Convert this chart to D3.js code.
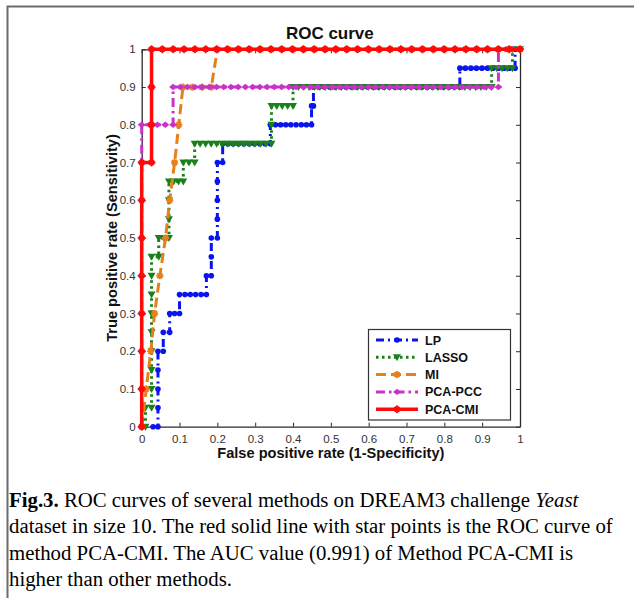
<!DOCTYPE html>
<html><head><meta charset="utf-8">
<script src="https://cdn.jsdelivr.net/npm/d3@7"></script>
<style>body{margin:0;background:#fff}svg{display:block}</style></head>
<body>
<svg id="c" width="634" height="598"></svg>
<script>
// ---- data ----
const seriesNames = ["LP", "LASSO", "MI", "PCA-PCC", "PCA-CMI"];
const lpX = [0.03,0.043,0.043,0.057,0.057,0.074,0.074,0.1,0.1,0.171,0.171,0.184,0.184,0.2,0.2,0.214,0.214,0.34,0.34,0.449,0.449,0.454,0.454,0.841,0.841,0.987,0.987,1];
const lpY = [0,0,0.2,0.2,0.25,0.25,0.3,0.3,0.35,0.35,0.4,0.4,0.5,0.5,0.7,0.7,0.75,0.75,0.8,0.8,0.85,0.85,0.9,0.9,0.95,0.95,1,1];
const lassoX = [0.01,0.01,0.026,0.026,0.045,0.045,0.072,0.072,0.11,0.11,0.14,0.14,0.343,0.343,0.4,0.4,0.925,0.925,0.98,0.98,1];
const lassoY = [0,0.05,0.05,0.45,0.45,0.5,0.5,0.65,0.65,0.7,0.7,0.75,0.75,0.85,0.85,0.9,0.9,0.95,0.95,1,1];
const miX = [0,0.012,0.024,0.034,0.048,0.063,0.074,0.087,0.098,0.109,0.184,0.2,1];
const miY = [0,0.1,0.2,0.3,0.4,0.5,0.6,0.7,0.8,0.9,0.9,1,1];
const pccX = [0,0,0.083,0.083,0.943,0.943,1];
const pccY = [0,0.8,0.8,0.9,0.9,1,1];
const cmiX = [0,0,0.026,0.026,1];
const cmiY = [0,0.7,0.7,1,1];
const xTickVals = [0,0.1,0.2,0.3,0.4,0.5,0.6,0.7,0.8,0.9,1];
const xTickLabels = ["0","0.1","0.2","0.3","0.4","0.5","0.6","0.7","0.8","0.9","1"];
const yTickVals = [0,0.1,0.2,0.3,0.4,0.5,0.6,0.7,0.8,0.9,1];
const yTickLabels = ["0","0.1","0.2","0.3","0.4","0.5","0.6","0.7","0.8","0.9","1"];
const titleText = "ROC curve";
const xLabel = "False positive rate (1-Specificity)";
const yLabel = "True positive rate (Sensitivity)";
const captionLines = [
  [["Fig.3.","b"],[" ROC curves of several methods on DREAM3 challenge ","n"],["Yeast","i"]],
  [["dataset in size 10. The red solid line with star points is the ROC curve of","n"]],
  [["method PCA-CMI. The AUC value (0.991) of Method PCA-CMI is","n"]],
  [["higher than other methods.","n"]]
];

// ---- styles ----
const styles = {
  "LP":      {xs: lpX, ys: lpY, color:"#0a14f0", dash:"8,4,2,4", width:3, marker:"dot", hx:0.0143, vy:0.05},
  "LASSO":   {xs: lassoX, ys: lassoY, color:"#1b801b", dash:"2.5,3.5", width:3, marker:"tri", hx:0.0143, vy:0.05},
  "MI":      {xs: miX, ys: miY, color:"#e5801c", dash:"10,5", width:3, marker:"ast", hx:0.029, vy:0.05},
  "PCA-PCC": {xs: pccX, ys: pccY, color:"#c832c8", dash:"9,4,2.5,4", width:3, marker:"dia", hx:0.019, vy:0.1},
  "PCA-CMI": {xs: cmiX, ys: cmiY, color:"#ff0a0a", dash:null, width:3.5, marker:"star", hx:0.029, vy:0.1}
};

const svg = d3.select("#c");
const L = 141.7, R = 520, T = 49.3, B = 426.7;
const x = d3.scaleLinear().domain([0,1]).range([L,R]);
const y = d3.scaleLinear().domain([0,1]).range([B,T]);

// figure border
svg.append("path").attr("d","M7.5,598 L7.5,6.5 L634,6.5").attr("fill","none").attr("stroke","#6b6b6b").attr("stroke-width",2);

// axes
const tickCol = "#2a2a2a";
const gx = svg.append("g").attr("transform",`translate(0,${B})`)
  .call(d3.axisBottom(x).tickValues(xTickVals).tickFormat((d,i)=>xTickLabels[i]).tickSize(-4).tickSizeOuter(0).tickPadding(8));
const gy = svg.append("g").attr("transform",`translate(${L},0)`)
  .call(d3.axisLeft(y).tickValues(yTickVals).tickFormat((d,i)=>yTickLabels[i]).tickSize(-4).tickSizeOuter(0).tickPadding(6));
const gxt = svg.append("g").attr("transform",`translate(0,${T})`)
  .call(d3.axisTop(x).tickValues(xTickVals).tickFormat("").tickSize(-4).tickSizeOuter(0));
const gyr = svg.append("g").attr("transform",`translate(${R},0)`)
  .call(d3.axisRight(y).tickValues(yTickVals).tickFormat("").tickSize(-4).tickSizeOuter(0));
[gx,gy,gxt,gyr].forEach(g=>{
  g.select(".domain").attr("stroke",tickCol).attr("stroke-width",1.3);
  g.selectAll(".tick line").attr("stroke",tickCol);
  g.selectAll("text").attr("font-family","Liberation Sans, Arial, sans-serif").attr("font-size",11.5).attr("fill","#333");
});

// marker positions along each curve (marker decoration placed along the drawn steps)
function markerPts(s){
  const pts=[];
  for(let i=0;i<s.xs.length;i++){
    pts.push([s.xs[i],s.ys[i]]);
    if(i<s.xs.length-1){
      const x0=s.xs[i],y0=s.ys[i],x1=s.xs[i+1],y1=s.ys[i+1];
      if(y0===y1 && x1>x0){
        const n=Math.round((x1-x0)/s.hx);
        for(let k=1;k<n;k++) pts.push([x0+(x1-x0)*k/n,y0]);
      } else if(x0===x1 && y1>y0){
        const n=Math.round((y1-y0)/s.vy);
        for(let k=1;k<n;k++) pts.push([x0,y0+(y1-y0)*k/n]);
      }
    }
  }
  return pts;
}
function drawMarker(g,type,cx,cy,color){
  if(type==="dot"){
    g.append("circle").attr("cx",cx).attr("cy",cy).attr("r",2.8).attr("fill",color);
  } else if(type==="tri"){
    g.append("path").attr("d",`M${cx-4},${cy-3} L${cx+4},${cy-3} L${cx},${cy+4} Z`).attr("fill",color);
  } else if(type==="ast"){
    const r=3.6;
    g.append("path").attr("d",`M${cx-r},${cy} L${cx+r},${cy} M${cx},${cy-r} L${cx},${cy+r} M${cx-r*0.7},${cy-r*0.7} L${cx+r*0.7},${cy+r*0.7} M${cx-r*0.7},${cy+r*0.7} L${cx+r*0.7},${cy-r*0.7}`)
      .attr("stroke",color).attr("stroke-width",1.8);
  } else if(type==="dia"){
    g.append("path").attr("d",`M${cx-4},${cy} L${cx},${cy-3.2} L${cx+4},${cy} L${cx},${cy+3.2} Z`).attr("fill",color);
  } else if(type==="star"){
    g.append("circle").attr("cx",cx).attr("cy",cy).attr("r",3.3).attr("fill",color);
    const r=4;
    g.append("path").attr("d",`M${cx-r},${cy} L${cx+r},${cy} M${cx},${cy-r} L${cx},${cy+r}`).attr("stroke",color).attr("stroke-width",1.5);
  }
}

const line = d3.line().x(d=>x(d[0])).y(d=>y(d[1]));
const plot = svg.append("g");
seriesNames.forEach(name=>{
  const s = styles[name];
  const data = s.xs.map((v,i)=>[v,s.ys[i]]);
  const g = plot.append("g");
  g.append("path").datum(data).attr("d",line).attr("fill","none")
    .attr("stroke",s.color).attr("stroke-width",s.width)
    .attr("stroke-dasharray",s.dash).attr("stroke-linejoin","miter");
  markerPts(s).forEach(p=>drawMarker(g,s.marker,x(p[0]),y(p[1]),s.color));
});

// title & labels
svg.append("text").attr("x",(L+R)/2 - 1).attr("y",39).attr("text-anchor","middle")
  .attr("font-family","Liberation Sans, Arial, sans-serif").attr("font-weight","bold").attr("font-size",17).attr("fill","#111").text(titleText);
svg.append("text").attr("x",(L+R)/2).attr("y",457.5).attr("text-anchor","middle")
  .attr("font-family","Liberation Sans, Arial, sans-serif").attr("font-weight","bold").attr("font-size",14.6).attr("fill","#111").text(xLabel);
svg.append("text").attr("transform",`translate(117,${(T+B)/2}) rotate(-90)`).attr("text-anchor","middle")
  .attr("font-family","Liberation Sans, Arial, sans-serif").attr("font-weight","bold").attr("font-size",14.6).attr("fill","#111").text(yLabel);

// legend
const lg = svg.append("g");
lg.append("rect").attr("x",368.5).attr("y",329.5).attr("width",142).attr("height",90.5)
  .attr("fill","#fff").attr("stroke","#333").attr("stroke-width",1.2);
seriesNames.forEach((name,i)=>{
  const s=styles[name];
  const ly = 340 + i*17.3;
  lg.append("line").attr("x1",376).attr("x2",418).attr("y1",ly).attr("y2",ly)
    .attr("stroke",s.color).attr("stroke-width",s.width).attr("stroke-dasharray",s.dash);
  drawMarker(lg,s.marker,397,ly,s.color);
  lg.append("text").attr("x",425).attr("y",ly+4.5).attr("font-family","Liberation Sans, Arial, sans-serif")
    .attr("font-weight","bold").attr("font-size",12.5).attr("fill","#111").text(name);
});

// caption
const cap = svg.append("g");
captionLines.forEach((ln,i)=>{
  const t = cap.append("text").attr("x",9).attr("y",507+i*26.3)
    .attr("font-family","Liberation Serif, Times New Roman, serif").attr("font-size",20.8).attr("fill","#000");
  ln.forEach(seg=>{
    const ts=t.append("tspan").text(seg[0]);
    if(seg[1]==="b") ts.attr("font-weight","bold");
    if(seg[1]==="i") ts.attr("font-style","italic");
  });
});
</script>
</body></html>
